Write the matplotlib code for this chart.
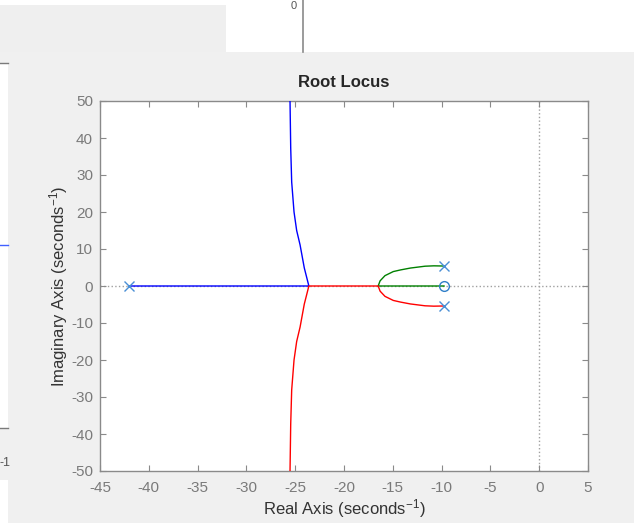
import matplotlib
matplotlib.use("Agg")
import matplotlib.pyplot as plt
from matplotlib.patches import Rectangle
from matplotlib.lines import Line2D

plt.rcParams['font.family'] = ['Liberation Sans', 'DejaVu Sans']
plt.rcParams['axes.unicode_minus'] = False
plt.rcParams['mathtext.fontset'] = 'custom'
plt.rcParams['mathtext.rm'] = 'Liberation Sans'
plt.rcParams['mathtext.it'] = 'Liberation Sans'
plt.rcParams['mathtext.bf'] = 'Liberation Sans:bold'

# ---- data ----
pole_re = [-42.0, -9.75, -9.75]
pole_im = [0.0, 5.4, -5.4]
zero_re = [-9.75]
zero_im = [0.0]

blue_re = [-42.0, -23.6, -24.07, -24.5, -24.85, -25.12, -25.36, -25.46, -25.53]
blue_im = [0.0, 0.0, 4.9, 11.1, 15.0, 20.0, 28.1, 37.3, 50.0]

green_re = [-9.75, -10.8, -11.7, -13.2, -14.2, -14.95, -15.8, -16.3, -16.5, -9.75]
green_im = [5.4, 5.45, 5.35, 4.85, 4.35, 3.9, 2.8, 1.4, 0.0, 0.0]

red_re = [-9.75, -10.8, -11.7, -13.2, -14.2, -14.95, -15.8, -16.3, -16.5, -23.6,
          -24.07, -24.5, -24.85, -25.12, -25.36, -25.46, -25.53]
red_im = [-5.4, -5.45, -5.35, -4.85, -4.35, -3.9, -2.8, -1.4, 0.0, 0.0,
          -4.9, -11.1, -15.0, -20.0, -28.1, -37.3, -50.0]

xticks = [-45, -40, -35, -30, -25, -20, -15, -10, -5, 0, 5]
yticks = [-50, -40, -30, -20, -10, 0, 10, 20, 30, 40, 50]

W, H = 634, 523
fig = plt.figure(figsize=(W / 100, H / 100), dpi=100, facecolor='white')

def rect(x0, y0, x1, y1, color):
    fig.patches.append(Rectangle((x0 / W, 1 - y1 / H), (x1 - x0) / W, (y1 - y0) / H,
                                 transform=fig.transFigure, facecolor=color,
                                 edgecolor='none', zorder=-10))

def hline(x0, x1, y, color, lw=1.0):
    fig.lines.append(Line2D([x0 / W, x1 / W], [1 - y / H, 1 - y / H],
                            transform=fig.transFigure, color=color, lw=lw, zorder=-5))

# background window artifacts
rect(0, 5, 226, 52, '#efefef')
rect(8, 52, 634, 523, '#f0f0f0')
rect(0, 52, 8, 63, '#f0f0f0')
rect(0, 428, 8, 480, '#f0f0f0')
hline(0, 8, 63, '#7a7a7a')
hline(0, 8, 428, '#7a7a7a')
hline(0, 8, 245, '#4060ff')
fig.lines.append(Line2D([303 / W, 303 / W], [1 - 52 / H, 1.0], transform=fig.transFigure,
                        color='#8a8a8a', lw=1.2, zorder=-5))
fig.text(0 / W, 1 - 463 / H, '-1', fontsize=9, color='#555555', va='center', ha='left')
fig.text(297 / W, 1 - 6 / H, '0', fontsize=8, color='#555555', va='center', ha='right')

ax = fig.add_axes([100 / W, 52 / H, 488 / W, 370 / H])
ax.set_facecolor('white')

# reference dotted lines
ax.axhline(0, color='#a0a0a0', ls=':', lw=1.0, zorder=1)
ax.axvline(0, color='#a0a0a0', ls=':', lw=1.0, zorder=1)

ax.plot(blue_re, blue_im, color='#0000ff', lw=1.0, zorder=3)
ax.plot(green_re, green_im, color='#008000', lw=1.0, zorder=3)
ax.plot(red_re, red_im, color='#ff0000', lw=1.0, zorder=3)

ax.plot(pole_re, pole_im, ls='none', marker='x', ms=7, mew=1.0, color='#4a8fd6', zorder=4)
ax.plot(zero_re, zero_im, ls='none', marker='o', ms=7, mew=1.0, mfc='none',
        mec='#2f7fc8', zorder=4)

ax.set_xlim(-45, 5)
ax.set_ylim(-50, 50)
ax.set_xticks(xticks)
ax.set_yticks(yticks)
ax.tick_params(direction='in', length=4, width=0.8, colors='#8a8a8a',
               labelcolor='#7a7a7a', labelsize=11, top=True, right=True)
ax.tick_params(axis='x', pad=7)
ax.tick_params(axis='y', pad=5)
for sp in ax.spines.values():
    sp.set_color('#8a8a8a')
    sp.set_linewidth(1.0)

ax.set_title('Root Locus', fontsize=12, fontweight='bold', color='#262626', pad=10)
ax.set_xlabel('Real Axis (seconds$^{-1}$)', fontsize=12, color='#333333', labelpad=2)
ax.set_ylabel('Imaginary Axis (seconds$^{-1}$)', fontsize=12, color='#333333', labelpad=1)

fig.savefig('out.png', dpi=100, facecolor=fig.get_facecolor())
